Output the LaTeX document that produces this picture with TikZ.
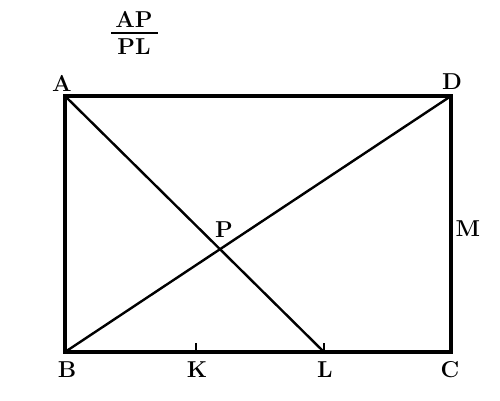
\documentclass[tikz,border=0pt]{standalone}
\usepackage{fontspec}
\setmainfont{Latin Modern Roman}
\begin{document}
\begin{tikzpicture}[x=1pt,y=-1pt,
  lbl/.style={inner sep=0pt,font=\fontsize{23}{28}\selectfont\bfseries},
  side/.style={line width=3.2pt},
  diag/.style={line width=2.4pt}]
\useasboundingbox (0,0) rectangle (500,400);
\coordinate (A) at (65,96);
\coordinate (D) at (451,96);
\coordinate (B) at (65,352);
\coordinate (C) at (451,352);
\coordinate (K) at (196,352);
\coordinate (L) at (324,352);
\coordinate (Kt) at (196,343);
\coordinate (Lt) at (324,343);
\draw[side,line join=miter] (A) -- (D) -- (C) -- (B) -- cycle;
\draw[diag] (A) -- (L);
\draw[diag] (B) -- (D);
\draw[line width=2.2pt] (K) -- (Kt);
\draw[line width=2.2pt] (L) -- (Lt);
\node[lbl] (nA) at (62,83) {A};
\node[lbl] (nD) at (452,82) {D};
\node[lbl] (nB) at (67,370) {B};
\node[lbl] (nK) at (197,370) {K};
\node[lbl] (nL) at (325,370) {L};
\node[lbl] (nC) at (450,370) {C};
\node[lbl] (nM) at (468,229) {M};
\node[lbl] (nP) at (224,230) {P};
\node[lbl] (nAP) at (134,19) {AP};
\node[lbl] (nPL) at (134,47) {PL};
\draw[line width=1.6pt] (111,33) -- (158,33);
\end{tikzpicture}
\end{document}
